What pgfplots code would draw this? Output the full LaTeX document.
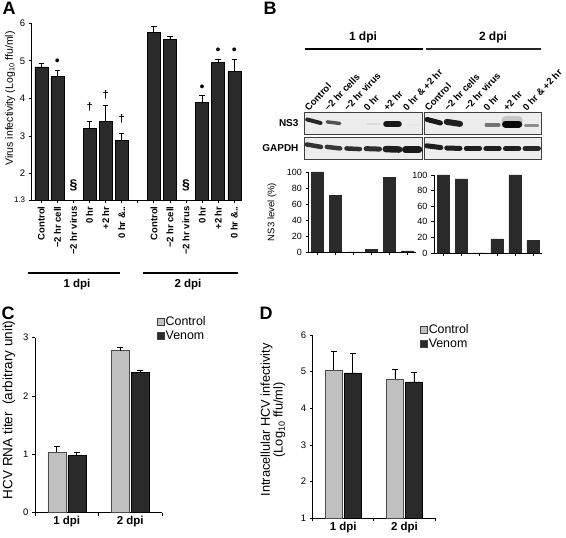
\documentclass[border=0pt]{standalone}
\usepackage{pgfplots}
\pgfplotsset{compat=1.18}
\usepackage{fontspec}
\setmainfont{Liberation Sans}
\newcommand{\myfs}[1]{\fontsize{#1}{#1}\selectfont}
\definecolor{darkbar}{HTML}{2A2A2A}
\definecolor{lightbar}{HTML}{C0C0C0}
\pgfplotsset{every axis/.append style={/pgf/number format/assume math mode=true,
  axis line style={line width=0.9pt}, tick style={black, line width=0.8pt},
  tick align=outside, major tick length=3pt, scale only axis, anchor=south west}}
\pgfplotsset{blot/.style={width=118pt, height=22pt, xmin=0.5, xmax=6.5, ymin=0, ymax=1,
  ytick=\empty, axis background/.style={fill=black!7},
  axis line style={black!75, line width=0.8pt}, clip=true}}
\pgfplotsset{bandline/.style={line cap=round}}
\begin{document}
\begin{tikzpicture}
\path[use as bounding box] (0,0) rectangle (566pt,538pt);

% ---------------- Panel A ----------------
\begin{axis}[at={(31.7pt,338pt)}, width=209.8pt, height=176.7pt,
  xmin=-0.6, xmax=12.45, ymin=1.3, ymax=6,
  axis x line*=bottom, axis y line*=left, clip=false,
  xtick={0,...,12},
  xticklabels={Control,−2 hr cell,−2 hr virus,0 hr,+2 hr,0 hr \&..,{},Control,−2 hr cell,−2 hr virus,0 hr,+2 hr,0 hr \&..},
  xticklabel style={rotate=90, anchor=east, font=\bfseries\myfs{9.5}},
  ytick={1.3,2,3,4,5,6},
  yticklabels={{\myfs{8}1.3},2,3,4,5,6},
  yticklabel style={font=\myfs{9.5}},
  ylabel={Virus infectivity (Log\textsubscript{10} ffu/ml)},
  ylabel style={font=\myfs{10.5}, at={(axis description cs:-0.103,0.574)}, anchor=center}]
\addplot[ybar, bar width=13pt, fill=darkbar, draw=black,
  error bars/.cd, y dir=plus, y explicit,
  error bar style={black, line width=0.8pt},
  error mark options={rotate=90, mark size=2.7pt, line width=0.8pt}]
  coordinates {(0,4.84) +- (0,0.09) (1,4.58) +- (0,0.18) (3,3.21) +- (0,0.19)
    (4,3.39) +- (0,0.42) (5,2.88) +- (0,0.19)
    (7,5.76) +- (0,0.15) (8,5.58) +- (0,0.08) (10,3.89) +- (0,0.18)
    (11,4.96) +- (0,0.09) (12,4.72) +- (0,0.31)};
\addplot[only marks, mark=*, mark size=0pt, mark options={draw=none,fill=none},
  nodes near coords, point meta=explicit symbolic,
  every node near coord/.style={anchor=center, text=black, inner sep=0pt, font=\myfs{14}}]
  coordinates {(1,4.96)[•] (10,4.27)[•] (11,5.25)[•] (12,5.25)[•]};
\addplot[only marks, mark=*, mark size=0pt, mark options={draw=none,fill=none},
  nodes near coords, point meta=explicit symbolic,
  every node near coord/.style={anchor=center, text=black, inner sep=0pt, font=\bfseries\myfs{11}}]
  coordinates {(3,3.77)[†] (4,4.10)[†] (5,3.46)[†]};
\addplot[only marks, mark=*, mark size=0pt, mark options={draw=none,fill=none},
  nodes near coords, point meta=explicit symbolic,
  every node near coord/.style={anchor=center, text=black, inner sep=0pt, font=\bfseries\myfs{14}}]
  coordinates {(2,1.68)[§] (9,1.68)[§]};
\end{axis}

% ---------------- Panel B blots ----------------
\begin{axis}[blot, at={(304pt,404pt)},
  xtick={1,...,6}, xticklabel pos=upper, xtick style={draw=none},
  xticklabels={Control,−2 hr cells,−2 hr virus,0 hr,+2 hr,0 hr \& +2 hr},
  xticklabel style={rotate=47, anchor=south west, font=\bfseries\myfs{9.5}, inner sep=0.5pt, xshift=-6pt, yshift=1pt}]
\addplot[bandline, line width=4pt, black!85] coordinates {(0.66,0.66) (1.34,0.50)};
\addplot[bandline, line width=3.5pt, black!68] coordinates {(1.68,0.55) (2.32,0.48)};
\addplot[bandline, line width=2.5pt, black!14] coordinates {(3.7,0.45) (4.3,0.45)};
\addplot[bandline, line width=6pt, black!90] coordinates {(4.68,0.45) (5.32,0.45)};
\addplot[bandline, line width=2pt, black!9] coordinates {(5.7,0.42) (6.3,0.42)};
\end{axis}
\begin{axis}[blot, at={(304pt,379pt)}, xtick=\empty]
\addplot[bandline, line width=4.5pt, black!80] coordinates {(0.64,0.66) (1.36,0.55)};
\addplot[bandline, line width=4.5pt, black!78] coordinates {(1.66,0.55) (2.34,0.48)};
\addplot[bandline, line width=4.5pt, black!82] coordinates {(2.66,0.48) (3.34,0.45)};
\addplot[bandline, line width=5pt, black!82] coordinates {(3.66,0.47) (4.34,0.45)};
\addplot[bandline, line width=6.5pt, black!88] coordinates {(4.66,0.45) (5.34,0.43)};
\addplot[bandline, line width=7pt, black!90] coordinates {(5.66,0.42) (6.34,0.42)};
\end{axis}
\begin{axis}[blot, width=117.5pt, at={(424pt,404pt)},
  xtick={1,...,6}, xticklabel pos=upper, xtick style={draw=none},
  xticklabels={Control,−2 hr cells,−2 hr virus,0 hr,+2 hr,0 hr \& +2 hr},
  xticklabel style={rotate=47, anchor=south west, font=\bfseries\myfs{9.5}, inner sep=0.5pt, xshift=-6pt, yshift=1pt}]
\addplot[bandline, line width=5pt, black!90] coordinates {(0.66,0.66) (1.34,0.50)};
\addplot[bandline, line width=6pt, black!88] coordinates {(1.66,0.55) (2.34,0.46)};
\addplot[bandline, line width=2pt, black!7] coordinates {(2.7,0.45) (3.3,0.45)};
\addplot[bandline, line width=3.5pt, black!55] coordinates {(3.68,0.42) (4.32,0.42)};
\addplot[bandline, line width=9pt, black!22] coordinates {(4.68,0.62) (5.32,0.62)};
\addplot[bandline, line width=7pt, black!96] coordinates {(4.66,0.45) (5.34,0.45)};
\addplot[bandline, line width=3pt, black!45] coordinates {(5.68,0.40) (6.32,0.40)};
\end{axis}
\begin{axis}[blot, width=117.5pt, at={(424pt,379pt)}, xtick=\empty]
\addplot[bandline, line width=5pt, black!88] coordinates {(0.64,0.6) (1.36,0.52)};
\addplot[bandline, line width=5pt, black!88] coordinates {(1.66,0.5) (2.34,0.48)};
\addplot[bandline, line width=5pt, black!88] coordinates {(2.66,0.48) (3.34,0.48)};
\addplot[bandline, line width=5pt, black!88] coordinates {(3.66,0.48) (4.34,0.48)};
\addplot[bandline, line width=5pt, black!88] coordinates {(4.66,0.48) (5.34,0.48)};
\addplot[bandline, line width=5pt, black!85] coordinates {(5.66,0.48) (6.34,0.48)};
\end{axis}

% ---------------- Panel B bar charts ----------------
\begin{axis}[at={(308.5pt,286pt)}, width=107.5pt, height=80pt,
  xmin=0.5, xmax=6.5, ymin=0, ymax=100,
  axis x line*=bottom, axis y line*=left,
  xtick={1,...,6}, xticklabels={},
  ytick={0,20,...,100}, yticklabel style={font=\myfs{9}},
  ylabel={NS3 level (\%)},
  ylabel style={font=\myfs{9.5}, at={(axis description cs:-0.34,0.5)}, anchor=center}]
\addplot[ybar, bar width=12pt, fill=darkbar, draw=darkbar]
  coordinates {(1,100) (2,71) (3,0) (4,3) (5,93) (6,1.5)};
\end{axis}
\begin{axis}[at={(434pt,285pt)}, width=108pt, height=78pt,
  xmin=0.5, xmax=6.5, ymin=0, ymax=100,
  axis x line*=bottom, axis y line*=left,
  xtick={1,...,6}, xticklabels={},
  ytick={0,20,...,100}, yticklabel style={font=\myfs{9}}]
\addplot[ybar, bar width=12pt, fill=darkbar, draw=darkbar]
  coordinates {(1,100) (2,95) (3,0) (4,18) (5,100) (6,16)};
\end{axis}

% ---------------- Panel C ----------------
\begin{axis}[at={(35pt,25.3pt)}, width=127pt, height=175pt,
  xmin=0.5, xmax=2.5, ymin=0, ymax=3,
  axis x line*=bottom, axis y line*=left,
  ybar=2pt, bar width=18pt,
  xtick={0.5,1.5,2.5}, xticklabels={},
  extra x ticks={1,2}, extra x tick labels={1 dpi,2 dpi},
  extra x tick style={major tick length=0pt},
  xticklabel style={font=\bfseries\myfs{11.5}},
  ytick={0,1,2,3}, yticklabel style={font=\myfs{9.5}},
  ylabel={HCV RNA titer\ \ (arbitrary unit)},
  ylabel style={font=\myfs{13.5}, at={(axis description cs:-0.205,0.587)}, anchor=center},
  legend style={at={(0.96,1.13)}, anchor=north west, draw=none, fill=none,
    font=\myfs{12.4}, inner sep=0pt, row sep=2pt, nodes={inner sep=1pt}},
  legend cell align=left,
  legend image code/.code={\draw[#1, draw=black!75, line width=0.6pt] (0pt,-3.5pt) rectangle (7pt,3.5pt);}]
\addplot[fill=lightbar, draw=black!70,
  error bars/.cd, y dir=plus, y explicit,
  error bar style={black, line width=0.8pt},
  error mark options={rotate=90, mark size=3pt, line width=0.8pt}]
  coordinates {(1,1.04) +- (0,0.095) (2,2.78) +- (0,0.05)};
\addplot[fill=darkbar, draw=black,
  error bars/.cd, y dir=plus, y explicit,
  error bar style={black, line width=0.8pt},
  error mark options={rotate=90, mark size=3pt, line width=0.8pt}]
  coordinates {(1,0.98) +- (0,0.05) (2,2.41) +- (0,0.025)};
\legend{Control,Venom}
\end{axis}

% ---------------- Panel D ----------------
\begin{axis}[at={(312.7pt,19.7pt)}, width=122.3pt, height=183.3pt,
  xmin=0.5, xmax=2.5, ymin=1, ymax=6,
  axis x line*=bottom, axis y line*=left,
  ybar=2pt, bar width=17pt,
  xtick={0.5,1.5,2.5}, xticklabels={},
  extra x ticks={1,2}, extra x tick labels={1 dpi,2 dpi},
  extra x tick style={major tick length=0pt},
  xticklabel style={font=\bfseries\myfs{11.5}},
  ytick={1,2,3,4,5,6}, yticklabel style={font=\myfs{9.5}},
  legend style={at={(0.877,1.065)}, anchor=north west, draw=none, fill=none,
    font=\myfs{12.4}, inner sep=0pt, row sep=2pt, nodes={inner sep=1pt}},
  legend cell align=left,
  legend image code/.code={\draw[#1, draw=black!75, line width=0.6pt] (0pt,-3.5pt) rectangle (7pt,3.5pt);}]
\addplot[fill=lightbar, draw=black!70,
  error bars/.cd, y dir=plus, y explicit,
  error bar style={black, line width=0.8pt},
  error mark options={rotate=90, mark size=3pt, line width=0.8pt}]
  coordinates {(1,5.04) +- (0,0.52) (2,4.80) +- (0,0.27)};
\addplot[fill=darkbar, draw=black,
  error bars/.cd, y dir=plus, y explicit,
  error bar style={black, line width=0.8pt},
  error mark options={rotate=90, mark size=3pt, line width=0.8pt}]
  coordinates {(1,4.97) +- (0,0.54) (2,4.72) +- (0,0.27)};
\legend{Control,Venom}
\end{axis}

% ---------------- Annotations ----------------
\begin{scope}[x=1pt,y=-1pt,shift={(0pt,538pt)}]
\node[font=\bfseries\myfs{18}] at (9,8) {A};
\node[font=\bfseries\myfs{18}] at (270,8) {B};
\node[font=\bfseries\myfs{18}] at (8,313) {C};
\node[font=\bfseries\myfs{18}] at (266,313) {D};
\node[rotate=90, align=center, font=\myfs{12.8}] at (273,420)
  {Intracellular HCV infectivity\\(Log\textsubscript{10} ffu/ml)};
% A group lines
\draw[line width=2pt] (28,273) -- (120,273);
\draw[line width=2pt] (143,273) -- (238,273);
\node[font=\bfseries\myfs{11.5}] at (77,285) {1 dpi};
\node[font=\bfseries\myfs{11.5}] at (188,285) {2 dpi};
% B headers
\node[font=\bfseries\myfs{12}] at (363,37) {1 dpi};
\node[font=\bfseries\myfs{12}] at (493,37) {2 dpi};
\draw[line width=2.5pt] (305,49) -- (423,49);
\draw[line width=1.5pt, black!85] (426,49) -- (541,49);
\node[font=\bfseries\myfs{10}, anchor=east] at (302,123) {NS3};
\node[font=\bfseries\myfs{10}, anchor=east] at (302,148) {GAPDH};
\end{scope}
\end{tikzpicture}
\end{document}
